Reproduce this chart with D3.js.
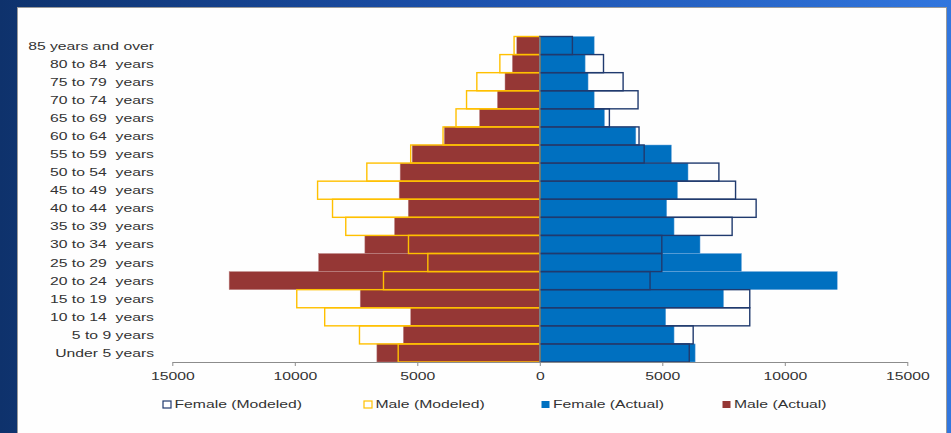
<!DOCTYPE html>
<html>
<head>
<meta charset="utf-8">
<script src="https://cdn.jsdelivr.net/npm/d3@7"></script>
<style>
  html, body { margin: 0; padding: 0; background: #fff; }
  svg { display: block; }
  text { font-family: "Liberation Sans", Arial, sans-serif; fill: #333; }
</style>
</head>
<body>
<svg id="chart" width="951" height="433"></svg>
<script>
// Age groups, top of the pyramid first
const categories = [
  "85 years and over", "80 to 84  years", "75 to 79  years", "70 to 74  years",
  "65 to 69  years", "60 to 64  years", "55 to 59  years", "50 to 54  years",
  "45 to 49  years", "40 to 44  years", "35 to 39  years", "30 to 34  years",
  "25 to 29  years", "20 to 24  years", "15 to 19  years", "10 to 14  years",
  "5 to 9 years", "Under 5 years"
];
const maleActual    = [940, 1120, 1420, 1730, 2460, 3900, 5210, 5700, 5740, 5370, 5930, 7140, 9030, 12680, 7330, 5270, 5570, 6650];
const maleModeled   = [1050, 1630, 2570, 2990, 3420, 3950, 5270, 7060, 9070, 8460, 7920, 5360, 4570, 6380, 9920, 8780, 7360, 5780];
const femaleActual  = [2220, 1850, 1970, 2220, 2640, 3920, 5370, 6050, 5620, 5180, 5480, 6540, 8230, 12140, 7500, 5140, 5480, 6340];
const femaleModeled = [1330, 2600, 3400, 4010, 2840, 4050, 4260, 7310, 7990, 8830, 7850, 4980, 4980, 4500, 8570, 8570, 6260, 6100];
const tickValues = [-15000, -10000, -5000, 0, 5000, 10000, 15000];
const legendItems = [
  { label: "Female (Modeled)", fill: "#ffffff", stroke: "#203a6e" },
  { label: "Male (Modeled)",   fill: "#ffffff", stroke: "#ffc000" },
  { label: "Female (Actual)",  fill: "#0070c0", stroke: "none" },
  { label: "Male (Actual)",    fill: "#953735", stroke: "none" }
];

const W = 951, H = 433;
const STRETCH = 1.43; // horizontal text stretch
const svg = d3.select("#chart");

// slide background
const defs = svg.append("defs");
const grad = defs.append("linearGradient").attr("id", "bg")
  .attr("x1", "0%").attr("x2", "100%").attr("y1", "0%").attr("y2", "0%");
grad.append("stop").attr("offset", "0%").attr("stop-color", "#0e326c");
grad.append("stop").attr("offset", "50%").attr("stop-color", "#1c51ad");
grad.append("stop").attr("offset", "100%").attr("stop-color", "#3176de");
svg.append("rect").attr("width", W).attr("height", H).attr("fill", "url(#bg)");
svg.append("rect").attr("x", 17.5).attr("y", 7.5).attr("width", 929).attr("height", 430)
  .attr("fill", "#fefefe").attr("stroke", "#9a9a9a").attr("stroke-width", 1);

const x = d3.scaleLinear().domain([-15000, 15000]).range([172.3, 907.3]);
const y = d3.scaleBand().domain(categories).range([36.5, 362]).padding(0);

const g = svg.append("g");

// actual populations (filled)
g.selectAll("rect.ma").data(categories).join("rect").attr("class", "ma")
  .attr("x", (d, i) => x(-maleActual[i])).attr("y", d => y(d))
  .attr("width", (d, i) => x(0) - x(-maleActual[i])).attr("height", y.bandwidth())
  .attr("fill", "#953735").attr("stroke", "#c08a89").attr("stroke-width", 0.5);
g.selectAll("rect.fa").data(categories).join("rect").attr("class", "fa")
  .attr("x", x(0)).attr("y", d => y(d))
  .attr("width", (d, i) => x(femaleActual[i]) - x(0)).attr("height", y.bandwidth())
  .attr("fill", "#0070c0").attr("stroke", "#6fa8dc").attr("stroke-width", 0.5);

// modeled populations (outlines on top)
g.selectAll("rect.mm").data(categories).join("rect").attr("class", "mm")
  .attr("x", (d, i) => x(-maleModeled[i])).attr("y", d => y(d))
  .attr("width", (d, i) => x(0) - x(-maleModeled[i])).attr("height", y.bandwidth())
  .attr("fill", "none").attr("stroke", "#ffc000").attr("stroke-width", 1.4);
g.selectAll("rect.fm").data(categories).join("rect").attr("class", "fm")
  .attr("x", x(0)).attr("y", d => y(d))
  .attr("width", (d, i) => x(femaleModeled[i]) - x(0)).attr("height", y.bandwidth())
  .attr("fill", "none").attr("stroke", "#203a6e").attr("stroke-width", 1.4);

// category axis line at zero
g.append("line").attr("x1", x(0)).attr("x2", x(0)).attr("y1", 36.5).attr("y2", 362)
  .attr("stroke", "#8c8c8c").attr("stroke-width", 1.2);

// value axis
const xAxis = g.append("g").attr("transform", "translate(0,362)")
  .call(d3.axisBottom(x).tickValues(tickValues).tickFormat(d => Math.abs(d))
    .tickSize(4).tickPadding(6).tickSizeOuter(0));
xAxis.select(".domain").attr("stroke", "#8c8c8c").attr("stroke-width", 1.2);
xAxis.selectAll(".tick line").attr("stroke", "#8c8c8c");
xAxis.selectAll(".tick text").attr("font-size", 11).attr("fill", "#333")
  .attr("font-family", "Liberation Sans, Arial, sans-serif")
  .attr("transform", `scale(${STRETCH},1)`);

// age group labels
g.selectAll("text.cat").data(categories).join("text").attr("class", "cat")
  .attr("transform", d => `translate(154,${y(d) + y.bandwidth() / 2}) scale(${STRETCH},1)`)
  .attr("text-anchor", "end").attr("dy", "0.36em").attr("font-size", 11)
  .style("white-space", "pre").text(d => d);

// legend
const legendX = [162.5, 363.5, 541, 722];
const lg = svg.append("g").attr("transform", "translate(0,404.5)");
const item = lg.selectAll("g").data(legendItems).join("g")
  .attr("transform", (d, i) => `translate(${legendX[i]},0)`);
item.append("rect").attr("x", 0.5).attr("y", -3.5).attr("width", 8).attr("height", 7)
  .attr("fill", d => d.fill).attr("stroke", d => d.stroke).attr("stroke-width", 1.2);
item.append("text").attr("transform", `translate(12,0) scale(${STRETCH},1)`)
  .attr("dy", "0.36em").attr("font-size", 11).text(d => d.label);
</script>
</body>
</html>
